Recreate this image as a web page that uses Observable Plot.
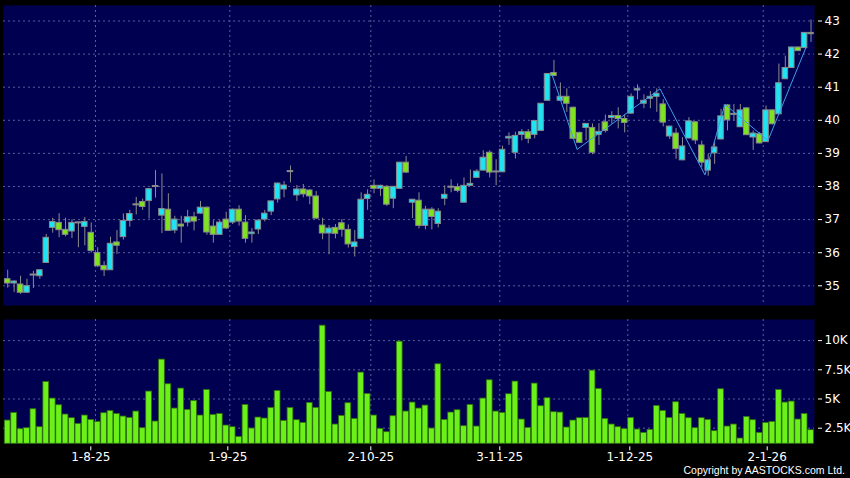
<!DOCTYPE html>
<html><head><meta charset="utf-8">
<script src="https://cdn.jsdelivr.net/npm/d3@7"></script>
<script src="https://cdn.jsdelivr.net/npm/@observablehq/plot@0.6"></script>
<style>
html,body{margin:0;padding:0;background:#000;}
#chart{position:relative;width:850px;height:478px;background:#000;overflow:hidden;font-family:"DejaVu Sans",sans-serif;}
#price{position:absolute;left:0;top:0;}
#vol{position:absolute;left:0;top:310px;}
#copy{position:absolute;right:5px;top:465px;color:#fff;font-family:"Liberation Sans",sans-serif;font-size:10.5px;line-height:1;white-space:nowrap;}
</style></head>
<body><div id="chart"><div id="price"></div><div id="vol"></div><div id="copy">Copyright by AASTOCKS.com Ltd.</div></div>
<script>
// ---- data (trading-day index 0..125) ----
const opens = [35.20,35.07,35.04,34.79,35.34,35.29,35.69,36.75,36.90,36.69,36.64,36.90,36.78,36.60,35.99,35.60,35.47,36.31,36.47,36.96,
37.45,37.53,37.56,38.00,37.12,37.30,36.67,36.85,36.91,37.07,37.18,37.36,36.79,36.54,37.00,36.91,37.30,36.91,36.56,36.70,
37.00,37.24,37.61,37.91,38.46,37.73,37.91,37.88,37.70,36.82,36.58,36.75,36.89,36.69,36.17,36.42,37.62,38.02,37.93,37.99,
37.63,37.93,38.72,37.51,37.57,36.81,37.30,36.87,37.63,37.98,37.98,37.51,38.02,38.26,38.48,39.02,38.44,38.43,39.45,39.02,
39.56,39.64,39.56,39.68,40.59,41.43,40.59,40.71,40.38,39.62,39.77,39.77,39.56,39.94,40.07,40.13,40.04,40.20,40.90,40.50,
40.65,40.71,40.48,39.51,39.60,38.79,39.45,39.94,39.24,38.48,39.00,39.42,40.45,40.18,39.79,40.36,39.48,39.58,39.34,40.30,
40.18,41.24,41.58,42.20,42.18,42.64];
const highs = [35.47,35.15,35.29,35.20,35.44,35.48,36.55,37.04,37.18,37.04,36.99,36.92,37.06,36.90,36.15,35.73,36.47,36.67,37.17,37.28,
37.67,37.62,37.93,38.48,38.38,37.78,37.10,37.10,37.28,37.22,37.55,37.38,36.97,36.97,37.22,37.32,37.42,37.12,36.73,36.99,
37.28,37.56,38.10,38.15,38.62,38.03,38.06,37.90,37.85,37.04,36.82,36.85,37.00,36.84,36.67,37.81,37.90,38.20,38.04,38.03,
38.00,38.73,38.91,37.61,37.81,37.40,37.36,37.33,38.02,38.20,38.08,38.26,38.50,38.51,39.08,39.08,38.81,39.22,39.62,39.64,
39.72,39.72,39.99,40.51,41.41,41.81,41.13,40.95,40.40,39.64,39.90,39.89,39.90,40.16,40.26,40.38,40.16,40.80,41.07,40.77,
40.87,40.95,40.62,39.82,39.75,39.47,40.08,39.96,39.37,38.97,39.32,40.33,40.47,40.48,40.48,40.38,39.68,39.63,40.43,40.31,
41.70,41.94,42.21,42.21,42.65,43.03];
const lows = [34.93,34.80,34.74,34.77,34.92,35.20,35.68,36.59,36.45,36.48,36.43,36.15,36.21,35.99,35.55,35.28,35.46,35.95,36.38,36.77,
37.14,37.28,37.02,37.65,36.58,36.64,36.57,36.29,36.78,36.66,37.16,36.53,36.29,36.52,36.70,36.85,36.80,36.29,36.29,36.55,
36.93,37.12,37.50,37.66,38.11,37.55,37.66,37.45,37.00,36.39,35.94,36.42,36.47,36.14,35.87,36.42,37.28,37.78,37.70,37.40,
37.33,37.92,38.39,37.03,36.72,36.69,36.69,36.75,37.42,37.81,37.81,37.50,38.00,38.25,38.46,38.26,38.02,38.42,39.24,38.83,
39.38,39.29,39.44,39.67,40.58,41.33,40.58,40.24,39.42,39.30,39.38,38.96,39.24,39.62,39.89,39.74,39.62,40.19,40.62,40.35,
40.35,40.24,39.80,39.42,38.82,38.78,39.44,39.27,38.57,38.31,38.67,39.41,39.68,39.98,39.78,39.54,39.09,39.29,39.33,39.86,
40.17,41.23,41.57,42.08,42.17,42.35];
const closes = [35.07,35.13,34.79,34.99,35.31,35.47,36.45,36.93,36.68,36.54,36.90,36.90,36.93,36.05,35.59,35.47,36.27,36.21,36.96,37.17,
37.44,37.38,37.92,38.00,37.32,36.66,37.00,36.79,37.07,36.94,37.36,36.61,36.54,36.91,36.73,37.30,36.94,36.42,36.61,36.97,
37.18,37.55,38.09,38.03,38.44,37.91,37.76,37.70,37.03,36.58,36.73,36.57,36.69,36.25,36.31,37.60,37.75,37.93,38.02,37.45,
37.99,38.72,38.42,37.60,36.81,37.30,37.08,37.24,37.75,37.98,37.87,38.02,38.08,38.45,38.87,38.42,38.44,39.11,39.50,39.53,
39.64,39.44,39.98,40.50,41.40,41.34,40.71,40.50,39.44,39.32,39.89,39.02,39.65,39.68,40.13,40.04,39.92,40.71,40.94,40.59,
40.71,40.80,39.93,39.81,39.13,39.21,39.97,39.39,38.72,38.79,39.18,40.12,40.00,40.18,40.30,39.55,39.60,39.30,40.30,39.88,
41.12,41.58,42.20,42.09,42.64,42.60];
const volumes = [3155,3811,2415,2500,4125,2585,6462,5036,4466,3668,3355,2870,3583,3212,3041,3782,3982,3725,3497,3383,
3925,2500,5635,3070,8371,6262,4181,5891,4067,4837,3583,5777,3640,3725,2728,2585,1759,4495,2471,3412,
3326,4238,5692,3127,4238,3184,2956,4666,4238,11278,5606,2813,3554,4637,3298,7259,5435,3583,2443,2158,
3526,9910,3925,4694,4181,4438,2471,7972,3212,3839,4039,2671,4495,2642,5036,6604,3925,3811,5407,6490,
3241,2528,6319,4381,5065,3868,3839,2557,3155,3355,3383,7430,5863,3298,2813,2585,2415,3383,2386,2101,
2358,4410,3982,3383,4723,3725,3355,2500,3355,3212,2244,5834,2642,2813,1617,3469,3184,2101,2956,3041,
5777,4694,4780,3241,3725,2329];
// zigzag indicator turning points: [trading-day index, price]
const zigIdx = [84.7, 88.6, 101.5, 108.5, 111.6, 118.3, 124.2];
const zigVal = [41.38, 39.12, 40.95, 38.35, 40.48, 39.39, 42.19];
// axes
const priceTicks = [35,36,37,38,39,40,41,42,43];
const volTicks = [2500,5000,7500,10000];
const volTickLabels = ["2.5K","5K","7.5K","10K"];
const dateTickIdx = [12.93, 34.25, 56.5, 76.57, 96.8, 118.18];
const dateGridIdx = [13.66, 34.56, 56.5, 76.57, 96.49, 117.56];
const dateLabels = ["1-8-25","1-9-25","2-10-25","3-11-25","1-12-25","2-1-26"];

// ---- styling ----
const NAVY = "#000050", CYAN = "#1EE3F2", GREEN = "#7EE31E", VOLGREEN = "#6CF01A";
const GRID = {stroke: "#5c5c9c", strokeOpacity: 1, strokeDasharray: "2,3", strokeWidth: 1};
const XDOM = [-0.654, 125.54];
const FONT = "DejaVu Sans, sans-serif";

const candles = opens.map((o, i) => {
  const c = closes[i];
  let lo = Math.min(o, c), hi = Math.max(o, c);
  if (hi - lo < 0.03) { const m = (hi + lo) / 2; lo = m - 0.015; hi = m + 0.015; }
  return {i, o, h: highs[i], l: lows[i], c, lo, hi, up: c >= o};
});
const zig = zigIdx.map((x, k) => ({i: x, v: zigVal[k]}));
const vols = volumes.map((v, i) => ({i, v}));
const volBase = 1164;

const pricePlot = Plot.plot({
  width: 850, height: 312,
  marginLeft: 3, marginRight: 36, marginTop: 5, marginBottom: 7,
  style: {background: "transparent", color: "#fff", fontFamily: FONT, fontSize: "12px", overflow: "visible"},
  x: {domain: XDOM, axis: null},
  y: {domain: [34.405, 43.468], axis: null},
  marks: [
    Plot.frame({fill: NAVY, stroke: null}),
    Plot.gridY(priceTicks, GRID),
    Plot.gridX(dateGridIdx, GRID),
    Plot.ruleX(candles, {x: "i", y1: "l", y2: "h", stroke: "#8c8c8c", strokeWidth: 1}),
    Plot.rect(candles, {x1: d => d.i - 0.43, x2: d => d.i + 0.43, y1: "lo", y2: "hi",
      fill: d => d.up ? CYAN : GREEN, stroke: "#8a8a8a", strokeWidth: 1}),
    Plot.line(zig, {x: "i", y: "v", stroke: "#3f9fe6", strokeWidth: 1}),
    Plot.axisY(priceTicks, {anchor: "right", label: null, tickSize: 4, tickPadding: 3, dx: 3, color: "#fff", fontSize: 12})
  ]
});
document.getElementById("price").appendChild(pricePlot);

const volMap = new Map(volTicks.map((t, k) => [t, volTickLabels[k]]));
const dateMap = new Map(dateTickIdx.map((t, k) => [t, dateLabels[k]]));

const volPlot = Plot.plot({
  width: 850, height: 168,
  marginLeft: 3, marginRight: 36, marginTop: 9, marginBottom: 34.7,
  style: {background: "transparent", color: "#fff", fontFamily: FONT, fontSize: "12px", overflow: "visible"},
  x: {domain: XDOM, axis: null},
  y: {domain: [volBase, 11806], axis: null},
  marks: [
    Plot.frame({fill: NAVY, stroke: null}),
    Plot.gridY(volTicks, GRID),
    Plot.gridX(dateGridIdx, GRID),
    Plot.rect(vols, {x1: d => d.i - 0.45, x2: d => d.i + 0.45, y1: () => volBase, y2: "v",
      fill: VOLGREEN, stroke: "#2f6e0e", strokeWidth: 0.8}),
    Plot.axisY(volTicks, {anchor: "right", label: null, tickSize: 4, tickPadding: 3, dx: 3, color: "#fff", fontSize: 12,
      tickFormat: d => volMap.get(d)}),
    Plot.axisX(dateTickIdx, {anchor: "bottom", label: null, tickSize: 4, tickPadding: 2, dy: 3, color: "#fff", fontSize: 12,
      tickFormat: d => dateMap.get(d)})
  ]
});
document.getElementById("vol").appendChild(volPlot);
</script>
</body></html>
